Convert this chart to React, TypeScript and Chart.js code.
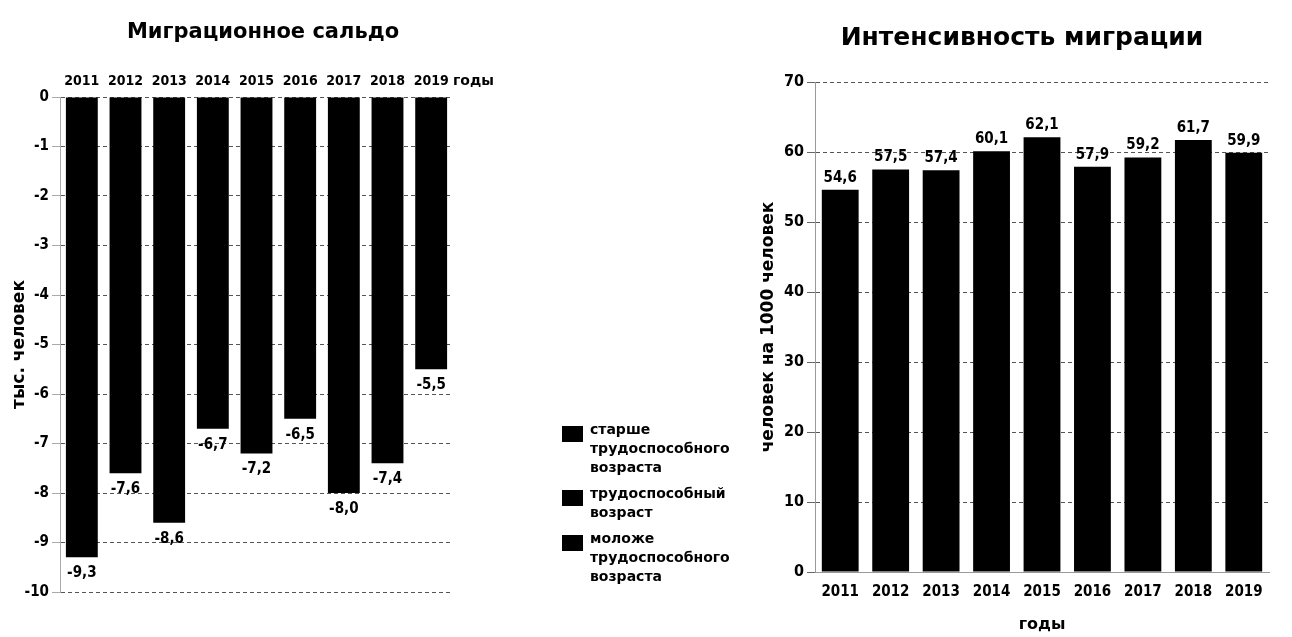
import React, { useEffect, useRef } from "react";
import { Chart, registerables } from "chart.js";

Chart.register(...registerables);

// ---------- data ----------
const YEARS = ["2011", "2012", "2013", "2014", "2015", "2016", "2017", "2018", "2019"];
const NET_MIGRATION = [-9.3, -7.6, -8.6, -6.7, -7.2, -6.5, -8.0, -7.4, -5.5];
const INTENSITY = [54.6, 57.5, 57.4, 60.1, 62.1, 57.9, 59.2, 61.7, 59.9];
const NET_AXIS = { min: -10, max: 0, step: 1 };
const INTENSITY_AXIS = { min: 0, max: 70, step: 10 };
const LEFT_TITLE = "Миграционное сальдо";
const RIGHT_TITLE = "Интенсивность миграции";
const LEFT_Y_TITLE = "тыс. человек";
const RIGHT_Y_TITLE = "человек на 1000 человек";
const X_TITLE = "годы";
const AGE_GROUPS = [
  ["старше", "трудоспособного", "возраста"],
  ["трудоспособный", "возраст"],
  ["моложе", "трудоспособного", "возраста"],
];

// ---------- styles ----------
const TEXT_FONT = "'DejaVu Sans', sans-serif";
const NUM_FONT = "'Liberation Sans Narrow', 'DejaVu Sans Condensed', Roboto, sans-serif";
const fmt = (v: number) => v.toFixed(1).replace(".", ",");

const headerPlugin = {
  id: "header",
  afterDraw(chart: any, _a: any, o: any) {
    const ctx = chart.ctx;
    ctx.save();
    ctx.font = `bold ${o.size}px ${TEXT_FONT}`;
    ctx.fillStyle = "#000";
    ctx.textAlign = "center";
    ctx.textBaseline = "alphabetic";
    ctx.fillText(o.text, o.x, o.y);
    ctx.restore();
  },
};

const valueLabelPlugin = {
  id: "valueLabels",
  afterDatasetsDraw(chart: any, _a: any, o: any) {
    const ctx = chart.ctx;
    ctx.save();
    ctx.font = `bold ${o.size}px ${NUM_FONT}`;
    ctx.fillStyle = "#000";
    ctx.textAlign = "center";
    ctx.textBaseline = "middle";
    const meta = chart.getDatasetMeta(0);
    const data = chart.data.datasets[0].data as number[];
    meta.data.forEach((el: any, i: number) => {
      ctx.fillText(fmt(data[i]), el.x, el.y + o.dy);
    });
    ctx.restore();
  },
};

const unitLabelPlugin = {
  id: "unitLabel",
  afterDraw(chart: any, _a: any, o: any) {
    const ctx = chart.ctx;
    const area = chart.chartArea;
    ctx.save();
    ctx.font = `bold ${o.size}px ${TEXT_FONT}`;
    ctx.fillStyle = "#000";
    ctx.textAlign = "left";
    ctx.textBaseline = "middle";
    ctx.fillText(o.text, area.right + o.dx, area.top + o.dy);
    ctx.restore();
  },
};

const ageLegendPlugin = {
  id: "ageLegend",
  afterDraw(chart: any, _a: any, o: any) {
    const ctx = chart.ctx;
    const area = chart.chartArea;
    ctx.save();
    ctx.font = `bold ${o.size}px ${TEXT_FONT}`;
    ctx.textAlign = "left";
    ctx.textBaseline = "middle";
    let y = area.bottom + o.dy;
    const bx = area.right + o.dx;
    (o.items as string[][]).forEach((lines) => {
      ctx.fillStyle = "#000";
      ctx.fillRect(bx, y - 4, 21, 16);
      lines.forEach((line, k) => {
        ctx.fillText(line, bx + 28, y + k * o.lineGap);
      });
      y += lines.length * o.lineGap + o.itemGap;
    });
    ctx.restore();
  },
};

function useChart(ref: React.RefObject<HTMLCanvasElement>, makeConfig: () => any) {
  useEffect(() => {
    if (!ref.current) return;
    const c = new Chart(ref.current, makeConfig());
    return () => c.destroy();
  }, []);
}

function leftConfig() {
  return {
    type: "bar",
    data: {
      labels: YEARS,
      datasets: [
        {
          label: LEFT_TITLE,
          data: NET_MIGRATION,
          backgroundColor: "#000",
          categoryPercentage: 1,
          barPercentage: 0.73,
        },
      ],
    },
    plugins: [headerPlugin, valueLabelPlugin, unitLabelPlugin, ageLegendPlugin],
    options: {
      animation: false,
      responsive: true,
      maintainAspectRatio: false,
      layout: { padding: { top: 0, left: 0, right: 297, bottom: 45 } },
      plugins: {
        legend: { display: false },
        tooltip: { enabled: false },
        header: { text: LEFT_TITLE, x: 263, y: 38, size: 21 },
        valueLabels: { dy: 16, size: 15 },
        unitLabel: { text: X_TITLE, dx: 0, dy: -16, size: 14 },
        ageLegend: { items: AGE_GROUPS, dx: 109, dy: -162, size: 14, lineGap: 19, itemGap: 7 },
      },
      scales: {
        x: {
          position: "top",
          grid: { display: false, drawTicks: false },
          border: { display: false },
          ticks: {
            color: "#000",
            padding: 7,
            maxRotation: 0,
            minRotation: 0,
            autoSkip: false,
            font: { family: NUM_FONT, size: 14, weight: "bold" },
          },
          afterFit: (s: any) => {
            s.height = 97;
          },
        },
        y: {
          min: NET_AXIS.min,
          max: NET_AXIS.max,
          ticks: { stepSize: NET_AXIS.step, color: "#000", padding: 3, font: { family: NUM_FONT, size: 15, weight: "bold" } },
          grid: { color: "#555", tickLength: 8, tickColor: "#aaa" },
          border: { display: true, color: "#aaa", dash: [4, 3] },
          title: {
            display: true,
            text: LEFT_Y_TITLE,
            color: "#000",
            font: { family: TEXT_FONT, size: 17, weight: "bold" },
            padding: { top: 9, bottom: 0 },
          },
          afterFit: (s: any) => {
            s.width = 60;
          },
        },
      },
    },
  };
}

function rightConfig() {
  return {
    type: "bar",
    data: {
      labels: YEARS,
      datasets: [
        {
          label: RIGHT_TITLE,
          data: INTENSITY,
          backgroundColor: "#000",
          categoryPercentage: 1,
          barPercentage: 0.73,
        },
      ],
    },
    plugins: [headerPlugin, valueLabelPlugin],
    options: {
      animation: false,
      responsive: true,
      maintainAspectRatio: false,
      layout: { padding: { top: 82, left: 0, right: 23, bottom: 0 } },
      plugins: {
        legend: { display: false },
        tooltip: { enabled: false },
        header: { text: RIGHT_TITLE, x: 272, y: 45, size: 25 },
        valueLabels: { dy: -12, size: 15 },
      },
      scales: {
        x: {
          grid: { display: false, drawTicks: false },
          border: { display: true, color: "#999", dash: [2, 2] },
          ticks: {
            color: "#000",
            padding: 11,
            maxRotation: 0,
            minRotation: 0,
            autoSkip: false,
            font: { family: NUM_FONT, size: 15, weight: "bold" },
          },
          title: {
            display: true,
            text: X_TITLE,
            color: "#000",
            font: { family: TEXT_FONT, size: 16, weight: "bold" },
            padding: { top: 0, bottom: 3 },
          },
          afterFit: (s: any) => {
            s.height = 65;
          },
        },
        y: {
          min: INTENSITY_AXIS.min,
          max: INTENSITY_AXIS.max,
          ticks: { stepSize: INTENSITY_AXIS.step, color: "#000", padding: 3, font: { family: NUM_FONT, size: 16, weight: "bold" } },
          grid: { color: "#555", tickLength: 8, tickColor: "#666" },
          border: { display: true, color: "#999", dash: [4, 3] },
          title: {
            display: true,
            text: RIGHT_Y_TITLE,
            color: "#000",
            font: { family: TEXT_FONT, size: 17, weight: "bold" },
            padding: { top: 8, bottom: 0 },
          },
          afterFit: (s: any) => {
            s.width = 65;
          },
        },
      },
    },
  };
}

export default function App() {
  const leftRef = useRef<HTMLCanvasElement>(null);
  const rightRef = useRef<HTMLCanvasElement>(null);
  useChart(leftRef, leftConfig);
  useChart(rightRef, rightConfig);
  return (
    <div style={{ position: "fixed", left: 0, top: 0, width: 1292, height: 637, background: "#fff" }}>
      <div style={{ position: "absolute", left: 0, top: 0, width: 750, height: 637 }}>
        <canvas ref={leftRef} />
      </div>
      <div style={{ position: "absolute", left: 750, top: 0, width: 542, height: 637 }}>
        <canvas ref={rightRef} />
      </div>
    </div>
  );
}
